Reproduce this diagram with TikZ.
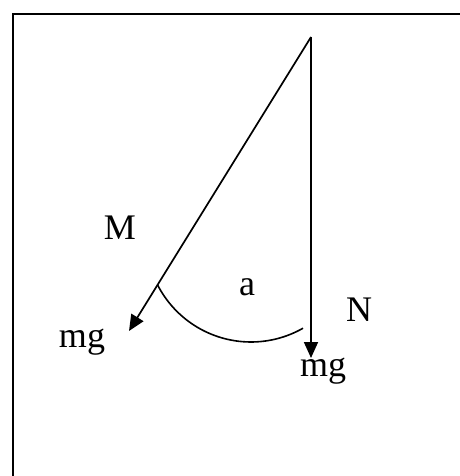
\documentclass[tikz,border=0pt]{standalone}
\usepackage{fontspec}
\setmainfont{Liberation Serif}
\usetikzlibrary{arrows.meta}
\tikzset{
    etichetta/.style = {font=\fontsize{36}{42}\selectfont, inner sep=0pt},
    vettore/.style = {line width=1.7pt, -{Triangle[length=16pt, width=14pt]}}
}
\begin{document}
\begin{tikzpicture}[x = 1pt, y = -1pt]
    % Parametri
    \pgfmathsetmacro{\r}{105}
    \useasboundingbox (0,0) rectangle (459,476);
    % Cornice
    \draw[line width = 2pt] (13,480) -- (13,14) -- (465,14);
    % Vettori
    \coordinate (O) at (311,37);
    \coordinate (pM) at (129,331);
    \coordinate (pN) at (311,358);
    \draw[vettore] (O) -- (pM);
    \draw[vettore] (O) -- (pN);
    % Angolo
    \coordinate (C) at (251,237);
    \draw[line width = 1.6pt] (C) ++(152.7:\r) arc[start angle = 152.7, end angle = 60.3, radius = \r];
    % Etichette
    \node[etichetta] (M) at (120,228) {M};
    \node[etichetta] (a) at (247,287) {a};
    \node[etichetta] (N) at (359,310) {N};
    \node[etichetta] (mgM) at (82,342) {mg};
    \node[etichetta] (mgN) at (323,371) {mg};
\end{tikzpicture}
\end{document}
